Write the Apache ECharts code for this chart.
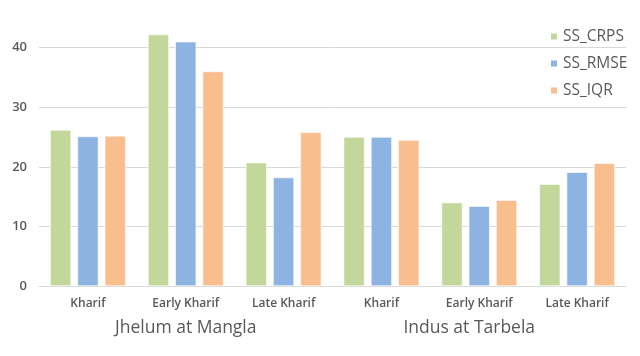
<!DOCTYPE html>
<html><head><meta charset="utf-8">
<script src="https://cdn.jsdelivr.net/npm/echarts@6/dist/echarts.min.js"></script>
<style>html,body{margin:0;padding:0;background:#fff}#c{width:640px;height:356px}</style>
</head><body><div id="c"></div>
<script>
const categories = ['Kharif','Early Kharif','Late Kharif','Kharif','Early Kharif','Late Kharif'];
const groups = ['Jhelum at Mangla','Indus at Tarbela'];
const seriesNames = ['SS_CRPS','SS_RMSE','SS_IQR'];
const ssCRPS = [26.2, 42.2, 20.7, 25.0, 14.0, 17.1];
const ssRMSE = [25.1, 41.0, 18.2, 25.0, 13.4, 19.1];
const ssIQR  = [25.2, 36.0, 25.8, 24.5, 14.4, 20.6];
const yMin = 0, yMax = 48, yStep = 10;

const colors = ['#C4D79B','#8DB3E2','#F9BE8E'];
const font = 'Open Sans';
const chart = echarts.init(document.getElementById('c'), null, {renderer:'canvas'});
const mk = (name, data, i) => ({
  name, type:'bar', data, barWidth:21, barGap:'30%',
  itemStyle:{color:colors[i], borderColor:'#fff', borderWidth:0.6},
  xAxisIndex:0
});
chart.setOption({
  animation:false,
  color:colors,
  grid:{left:39, right:14, top:0, height:286, containLabel:false},
  legend:{
    orient:'vertical', left:549, top:28.5, padding:0, itemWidth:8, itemHeight:8, itemGap:11,
    icon:'rect', textStyle:{fontFamily:font, fontSize:15.5, lineHeight:16, color:'#595959'},
    data:seriesNames
  },
  xAxis:[{
    type:'category', data:categories, position:'bottom',
    axisLine:{lineStyle:{color:'#D9D9D9'}}, axisTick:{show:false},
    axisLabel:{fontFamily:font, fontSize:12, fontWeight:600, color:'#595959', margin:12, interval:0}
  },{
    type:'category', data:groups, position:'bottom', offset:25,
    axisLine:{show:false}, axisTick:{show:false},
    axisLabel:{fontFamily:font, fontSize:17.5, color:'#595959', interval:0,
      formatter:(v,i)=> i===1 ? '{b|'+v+'}' : '{a|'+v+'}',
      rich:{a:{fontFamily:font,fontSize:17.5,color:'#595959'},
            b:{fontFamily:font,fontSize:17.5,color:'#595959',padding:[0,20,0,0]}}}
  }],
  yAxis:{
    type:'value', min:yMin, max:yMax, interval:yStep,
    axisLine:{show:false}, axisTick:{show:false},
    splitLine:{lineStyle:{color:'#D9D9D9'}, showMaxLine:false},
    axisLabel:{fontFamily:font, fontSize:13, fontWeight:600, color:'#595959', margin:12, showMaxLabel:false}
  },
  series:[mk(seriesNames[0], ssCRPS, 0), mk(seriesNames[1], ssRMSE, 1), mk(seriesNames[2], ssIQR, 2)]
});
</script></body></html>
